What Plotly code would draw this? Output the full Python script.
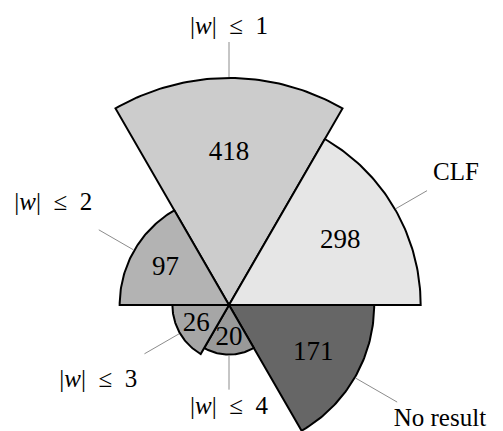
import numpy as np
import plotly.graph_objects as go

# categories, clockwise from the top, each wedge spans 60 degrees
labels = ["|<i>w</i>|\u00a0\u00a0≤\u00a0\u00a01", "CLF", "No result",
          "|<i>w</i>|\u00a0\u00a0≤\u00a0\u00a04", "|<i>w</i>|\u00a0\u00a0≤\u00a0\u00a03",
          "|<i>w</i>|\u00a0\u00a0≤\u00a0\u00a02"]
counts = [418, 298, 171, 20, 26, 97]
colors = ["#cccccc", "#e6e6e6", "#666666", "#999999", "#a6a6a6", "#b3b3b3"]

# radius is sqrt of the count, so the wedge area follows the count
r = np.sqrt(counts)
n = len(counts)
span = 360 / n
mid = 90 - span * np.arange(n)      # wedge centre angles (deg)

PAGE_MARGIN = 8                      # default body margin of the html page
W, H = 503 - PAGE_MARGIN, 431 - PAGE_MARGIN
CX, CY = 229 - PAGE_MARGIN, 305 - PAGE_MARGIN   # centre of the rose
PX = 227 / np.sqrt(418)              # pixels per radial unit

# leader line length, label distance (pixels) and label angle nudge (deg)
lead = [36, 37, 49, 35, 41, 41]
label_px = [277, 262, 240, 103, 151, 203]
label_nudge = [0, 0, 1.5, 0, 0, 0]

FONT = "Liberation Serif"


def polar_xy(rad, deg):
    t = np.radians(deg)
    return rad * np.cos(t), rad * np.sin(t)


fig = go.Figure()

for i in range(n):
    angs = np.linspace(mid[i] + span / 2, mid[i] - span / 2, 60)
    ax_, ay_ = polar_xy(r[i], angs)
    xs = np.concatenate([[0], ax_, [0]])
    ys = np.concatenate([[0], ay_, [0]])
    fig.add_trace(go.Scatter(
        x=xs, y=ys, mode="lines", fill="toself", fillcolor=colors[i],
        line=dict(color="black", width=2), hoverinfo="skip",
    ))

# leader lines
lx, ly = [], []
for i in range(n):
    x0, y0 = polar_xy(r[i] + 1 / PX, mid[i])
    x1, y1 = polar_xy(r[i] + lead[i] / PX, mid[i])
    lx += [x0, x1, None]
    ly += [y0, y1, None]
fig.add_trace(go.Scatter(x=lx, y=ly, mode="lines",
                         line=dict(color="#8c8c8c", width=1), hoverinfo="skip"))

# counts inside the wedges
tx, ty = polar_xy(r * 0.67, mid)
fig.add_trace(go.Scatter(
    x=tx, y=ty, mode="text", text=[str(c) for c in counts],
    textfont=dict(family=FONT, size=27, color="black"),
    hoverinfo="skip", cliponaxis=False,
))

# outer labels
ox, oy = polar_xy(np.array(label_px) / PX, mid + np.array(label_nudge))
fig.add_trace(go.Scatter(
    x=ox, y=oy, mode="text", text=labels,
    textfont=dict(family=FONT, size=25, color="black"),
    hoverinfo="skip", cliponaxis=False,
))

fig.update_layout(
    width=W, height=H,
    margin=dict(l=0, r=0, t=0, b=0),
    paper_bgcolor="white", plot_bgcolor="white",
    showlegend=False,
    xaxis=dict(range=[-CX / PX, (W - CX) / PX], visible=False),
    yaxis=dict(range=[(CY - H) / PX, CY / PX], visible=False),
)

fig.write_html("out.html")
